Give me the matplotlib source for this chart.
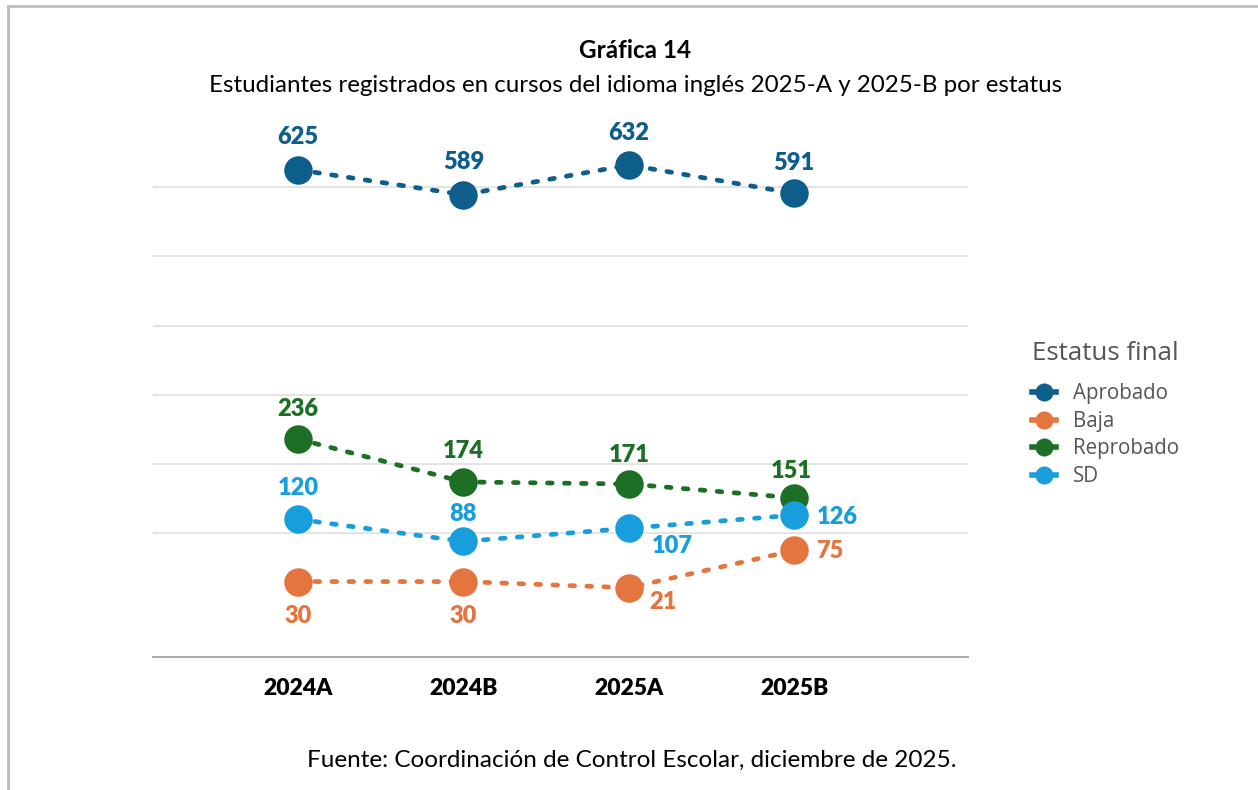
import matplotlib
matplotlib.use("Agg")
import matplotlib.pyplot as plt
from matplotlib.lines import Line2D

# data
periodos = ["2024A", "2024B", "2025A", "2025B"]
estatus = ["Aprobado", "Baja", "Reprobado", "SD"]
aprobado = [625, 589, 632, 591]
baja = [30, 30, 21, 75]
reprobado = [236, 174, 171, 151]
sd = [120, 88, 107, 126]

series = [aprobado, baja, reprobado, sd]
colores = ["#0e5e8b", "#e4753f", "#1d6f26", "#199edd"]

# label offsets in pixels (dx, dy) per point
offsets = [
    [(0, 33), (0, 33), (0, 32), (0, 30)],
    [(0, -34), (0, -34), (34, -14), (36, -1)],
    [(0, 30), (0, 31), (0, 29), (-3, 27)],
    [(0, 31), (0, 27), (43, -18), (43, -2)],
]

plt.rcParams['font.family'] = ['Lato', 'DejaVu Sans']

fig = plt.figure(figsize=(12.58, 7.90), dpi=100)
ax = fig.add_axes([153/1258, 1-657/790, (968-153)/1258, (657-120)/790])

x = list(range(1, len(periodos) + 1))

for vals, col, offs in zip(series, colores, offsets):
    ax.plot(x, vals, color=col, lw=3.4, linestyle=(0, (1.0, 2.6)),
            dash_capstyle='round', zorder=3)
    ax.plot(x, vals, 'o', color=col, ms=20.5, mec='none', zorder=4)
    for xi, v, (dx, dy) in zip(x, vals, offs):
        ax.annotate(str(v), (xi, v), xytext=(dx, dy), textcoords='offset pixels',
                    ha='center', va='center', color=col, fontsize=17,
                    fontweight='heavy', zorder=5)

ax.set_xlim(0.124, 5.05)
ax.set_ylim(-79, 697)
ax.set_yticks([100, 200, 300, 400, 500, 600])
ax.yaxis.grid(True, color='#e4e4e4', lw=1.4)
ax.set_axisbelow(True)
ax.tick_params(axis='y', left=False, labelleft=False)
ax.set_xticks(x)
ax.set_xticklabels(periodos, fontsize=16.5, fontweight='heavy', color='black')
ax.tick_params(axis='x', length=0, pad=15)
for s in ['top', 'right', 'left']:
    ax.spines[s].set_visible(False)
ax.spines['bottom'].set_color('#a8a8a8')
ax.spines['bottom'].set_linewidth(1.4)

fig.text(0.505, 1-51/790, "Gráfica 14", ha='center', va='center',
         fontsize=17.5, fontweight='bold')
fig.text(0.505, 1-86/790,
         "Estudiantes registrados en cursos del idioma inglés 2025-A y 2025-B por estatus",
         ha='center', va='center', fontsize=17.4)
fig.text(632/1258, 1-760/790, "Fuente: Coordinación de Control Escolar, diciembre de 2025.",
         ha='center', va='center', fontsize=17.5)

handles = [Line2D([], [], color=c, lw=4, marker='o', ms=13, mec='none') for c in colores]
leg = fig.legend(handles, estatus, loc='upper left',
                 bbox_to_anchor=(1013/1258, 1-323/790), frameon=False,
                 title="Estatus final",
                 handlelength=1.2, handletextpad=0.8, labelspacing=0.32,
                 prop={'family': 'Open Sans', 'size': 14.8})
leg.get_title().set_color('#555555')
leg.get_title().set_family('Open Sans')
leg.get_title().set_fontsize(18.6)
leg._legend_box.align = 'left'
leg._legend_box.sep = 12
for t in leg.get_texts():
    t.set_color('#555555')

# outer frame
fig.add_artist(Line2D([8/1258, 8/1258], [0, 1-6/790], transform=fig.transFigure,
                      color='#bdbdbd', lw=2))
fig.add_artist(Line2D([8/1258, 1], [1-6/790, 1-6/790], transform=fig.transFigure,
                      color='#bdbdbd', lw=2))

fig.savefig("out.png", dpi=100)
